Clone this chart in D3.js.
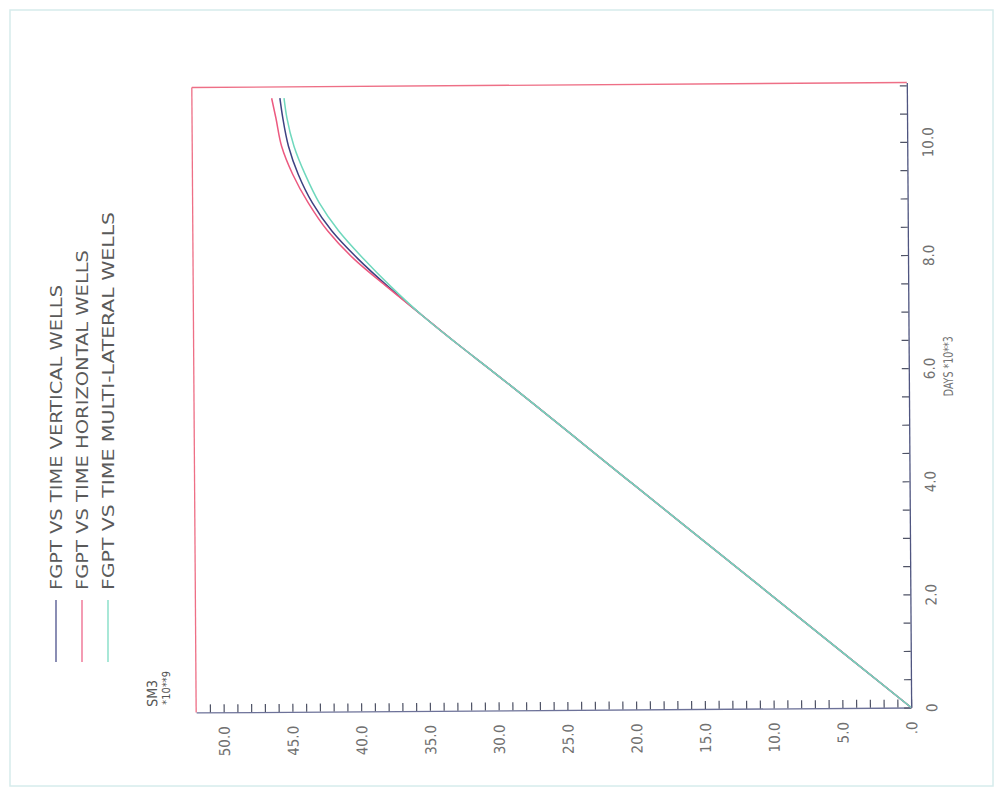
<!DOCTYPE html>
<html>
<head>
<meta charset="utf-8">
<script src="https://cdn.jsdelivr.net/npm/d3@7"></script>
<style>
  body { margin: 0; background: #ffffff; }
  text { font-family: "DejaVu Sans Condensed", "Liberation Sans Narrow", "DejaVu Sans", sans-serif; }
</style>
</head>
<body>
<svg id="chart" width="996" height="789"></svg>
<script>
// Simulation time, thousands of days
const days = [0, 2.0, 4.0, 6.0, 6.5, 7.0, 7.5, 8.0, 8.5, 9.0, 9.5, 10.0, 10.5, 10.85];
// Field gas production total, SM3 * 10**9
const fgptVertical     = [0, 10.1, 20.2, 30.3, 32.9, 35.4, 37.8, 40.0, 41.9, 43.3, 44.3, 45.0, 45.4, 45.6];
const fgptHorizontal   = [0, 10.1, 20.2, 30.3, 32.9, 35.4, 37.9, 40.3, 42.2, 43.6, 44.7, 45.5, 45.9, 46.2];
const fgptMultiLateral = [0, 10.1, 20.2, 30.3, 32.9, 35.4, 37.6, 39.6, 41.4, 42.8, 43.8, 44.6, 45.1, 45.3];

const seriesNames  = ["FGPT VS TIME VERTICAL WELLS", "FGPT VS TIME HORIZONTAL WELLS", "FGPT VS TIME MULTI-LATERAL WELLS"];
const seriesColors = ["#3d4282", "#ec5a80", "#6fd8bd"];
const dayTicks   = [0, 2, 4, 6, 8, 10];
const valueTicks = [0, 5, 10, 15, 20, 25, 30, 35, 40, 45, 50];

const svg = d3.select("#chart");

// page border
svg.append("rect")
  .attr("x", 10).attr("y", 10).attr("width", 983).attr("height", 776)
  .attr("fill", "none").attr("stroke", "#d6ecec").attr("stroke-width", 1.5);

// the plot is drawn turned a quarter turn: time runs upward, volume runs leftward
const plotLeft = 194, plotRight = 909, plotTop = 85, plotBottom = 710;
const valueScale = d3.scaleLinear().domain([0, 52]).range([plotRight, plotLeft]);
const dayScale   = d3.scaleLinear().domain([0, 11.05]).range([plotBottom, plotTop]);

const g = svg.append("g").attr("transform", "rotate(-0.4 550 400)");

// frame edges opposite the axes
g.append("line").attr("x1", plotLeft).attr("x2", plotLeft).attr("y1", plotTop).attr("y2", plotBottom)
  .attr("stroke", "#ee6f86").attr("stroke-width", 1.3);
g.append("line").attr("x1", plotLeft).attr("x2", plotRight).attr("y1", plotTop).attr("y2", plotTop)
  .attr("stroke", "#ee6f86").attr("stroke-width", 1.3);

// volume axis along the bottom, ticks pointing into the plot
const valueAxis = d3.axisBottom(valueScale)
  .tickValues(d3.range(0, 52, 1))
  .tickSizeInner(-8).tickSizeOuter(0)
  .tickFormat(d => valueTicks.includes(d) ? (d === 0 ? ".0" : d.toFixed(1)) : "");
const vAx = g.append("g").attr("transform", `translate(0,${plotBottom})`).call(valueAxis);
vAx.select(".domain").attr("stroke", "#6d7299").attr("stroke-width", 1.3);
vAx.selectAll(".tick line").attr("stroke", "#4f5366").attr("stroke-width", 1.2);
vAx.selectAll(".tick text")
  .attr("transform", "translate(0,14) rotate(-90)")
  .attr("x", 0).attr("y", 0).attr("dy", "0.36em")
  .attr("text-anchor", "end")
  .attr("fill", "#707070")
  .style("font-size", "15px");

// time axis along the right side
const dayAxis = d3.axisRight(dayScale)
  .tickValues(d3.range(0, 11.01, 0.5))
  .tickSizeInner(-7).tickSizeOuter(0)
  .tickFormat(d => dayTicks.includes(d) ? (d === 0 ? "0" : d.toFixed(1)) : "");
const dAx = g.append("g").attr("transform", `translate(${plotRight},0)`).call(dayAxis);
dAx.select(".domain").attr("stroke", "#4f5580").attr("stroke-width", 1.3);
dAx.selectAll(".tick line").attr("stroke", "#4f5366").attr("stroke-width", 1.2);
dAx.selectAll(".tick text")
  .attr("transform", "translate(26,0) rotate(-90)")
  .attr("x", 0).attr("y", 0).attr("dy", "0")
  .attr("text-anchor", "middle")
  .attr("fill", "#707070")
  .style("font-size", "15px");

// axis titles
g.append("text")
  .attr("transform", `translate(953,399) rotate(-90)`)
  .attr("text-anchor", "start").attr("fill", "#707070")
  .attr("textLength", 60).attr("lengthAdjust", "spacingAndGlyphs")
  .style("font-size", "13px").text("DAYS *10**3");
g.append("text")
  .attr("transform", `translate(155,704) rotate(-90)`)
  .attr("text-anchor", "start").attr("fill", "#555")
  .style("font-size", "14px").text("SM3");
g.append("text")
  .attr("transform", `translate(168,702) rotate(-90)`)
  .attr("text-anchor", "start").attr("fill", "#555")
  .style("font-size", "11px").text("*10**9");

// production curves
const series = [fgptVertical, fgptHorizontal, fgptMultiLateral];
const line = d3.line()
  .x(d => valueScale(d[1]))
  .y(d => dayScale(d[0]))
  .curve(d3.curveMonotoneY);
series.forEach((vals, i) => {
  g.append("path")
    .datum(days.map((t, k) => [t, vals[k]]))
    .attr("d", line)
    .attr("fill", "none")
    .attr("stroke", seriesColors[i])
    .attr("stroke-width", 1.5);
});

// legend: short line segment under each rotated label
const legendX = [56, 82, 108];
const legendLen = [305, 340, 378];
seriesNames.forEach((name, i) => {
  svg.append("line")
    .attr("x1", legendX[i]).attr("x2", legendX[i])
    .attr("y1", 600).attr("y2", 662)
    .attr("stroke", seriesColors[i]).attr("stroke-width", 1.2);
  svg.append("text")
    .attr("transform", `translate(${legendX[i] + 6},590) rotate(-90)`)
    .attr("text-anchor", "start").attr("fill", "#5a5a5a")
    .attr("textLength", legendLen[i]).attr("lengthAdjust", "spacingAndGlyphs")
    .style("font-size", "16px")
    .text(name);
});
</script>
</body>
</html>
